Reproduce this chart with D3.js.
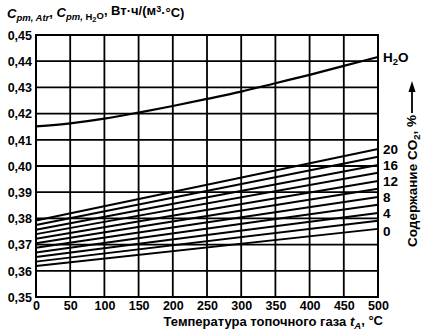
<!DOCTYPE html>
<html>
<head>
<meta charset="utf-8">
<script src="https://cdn.jsdelivr.net/npm/d3@7"></script>
<style>
  html, body { margin: 0; padding: 0; background: #fff; }
  svg { display: block; font-family: "Liberation Sans", Arial, sans-serif; }
</style>
</head>
<body>
<svg id="chart" width="423" height="333"></svg>
<script>
// ---- data ----
const tempTicks = [0, 50, 100, 150, 200, 250, 300, 350, 400, 450, 500];
const yTicks = [0.35, 0.36, 0.37, 0.38, 0.39, 0.40, 0.41, 0.42, 0.43, 0.44, 0.45];
const h2oTemps = [0, 50, 100, 150, 200, 250, 300, 350, 400, 450, 500];
const h2oValues = [0.4151, 0.4163, 0.4181, 0.4204, 0.4229, 0.4256, 0.4284, 0.4316, 0.4348, 0.4382, 0.4416];
const co2Levels = [0, 2, 4, 6, 8, 10, 12, 14, 16, 18, 20];
const co2Temps = [0, 500];
const co2At0 = [0.3618, 0.3635, 0.3653, 0.3670, 0.3688, 0.3705, 0.3722, 0.3740, 0.3757, 0.3775, 0.3792];
const co2At500 = [0.3760, 0.3791, 0.3821, 0.3852, 0.3882, 0.3913, 0.3943, 0.3974, 0.4004, 0.4035, 0.4065];
const co2LabelLevels = [0, 4, 8, 12, 16, 20];

// ---- layout ----
const svg = d3.select("#chart");
const x = d3.scaleLinear().domain([0, 500]).range([36, 378]);
const y = d3.scaleLinear().domain([0.35, 0.45]).range([297, 35]);
const fmt = d => d.toFixed(2).replace(".", ",");

// grid
const grid = svg.append("g").attr("stroke", "#000").attr("stroke-width", 1.8);
grid.selectAll("line.v").data(tempTicks).join("line")
  .attr("x1", d => x(d)).attr("x2", d => x(d))
  .attr("y1", y(0.35)).attr("y2", y(0.45));
grid.selectAll("line.h").data(yTicks).join("line")
  .attr("y1", d => y(d)).attr("y2", d => y(d))
  .attr("x1", x(0)).attr("x2", x(500));

// frame
svg.append("rect")
  .attr("x", x(0)).attr("y", y(0.45))
  .attr("width", x(500) - x(0)).attr("height", y(0.35) - y(0.45))
  .attr("fill", "none").attr("stroke", "#000").attr("stroke-width", 2);

// axes (labels only)
const xAxis = svg.append("g").attr("transform", `translate(0,${y(0.35)})`)
  .call(d3.axisBottom(x).tickValues(tempTicks).tickSize(0).tickPadding(4).tickFormat(d3.format("d")));
const yAxis = svg.append("g").attr("transform", `translate(${x(0)},0)`)
  .call(d3.axisLeft(y).tickValues(yTicks).tickSize(0).tickPadding(4).tickFormat(fmt));
[xAxis, yAxis].forEach(a => {
  a.select(".domain").remove();
  a.selectAll("text").attr("font-family", "Liberation Sans, Arial, sans-serif")
    .attr("font-size", 12.5).attr("font-weight", "bold").attr("fill", "#000");
});
yAxis.selectAll("text").attr("dy", "0.35em");
xAxis.selectAll("text").attr("dy", "0.72em");

// lines
const line = d3.line().x(d => x(d[0])).y(d => y(d[1]));
svg.append("path")
  .datum(h2oTemps.map((t, i) => [t, h2oValues[i]]))
  .attr("d", line.curve(d3.curveMonotoneX))
  .attr("fill", "none").attr("stroke", "#000").attr("stroke-width", 2.2);

const co2Line = d3.line().x(d => x(d[0])).y(d => y(d[1]));
svg.append("g").selectAll("path").data(co2Levels).join("path")
  .attr("d", (c, i) => co2Line([[co2Temps[0], co2At0[i]], [co2Temps[1], co2At500[i]]]))
  .attr("fill", "none").attr("stroke", "#000").attr("stroke-width", 2);

// right labels
const lab = svg.append("g").attr("font-size", 13.5).attr("font-weight", "bold").attr("fill", "#000");
const h2oT = lab.append("text").attr("x", 383).attr("y", y(h2oValues[h2oValues.length - 1])).attr("dy", "0.38em");
h2oT.append("tspan").text("H");
h2oT.append("tspan").attr("font-size", 9.5).attr("dy", "0.3em").text("2");
h2oT.append("tspan").attr("dy", "-0.25em").text("O");

lab.selectAll("text.co2").data(co2LabelLevels).join("text")
  .attr("class", "co2")
  .attr("x", 383)
  .attr("y", d => y(co2At500[co2Levels.indexOf(d)]) + (d === 0 ? 2 : 0))
  .attr("dy", "0.38em")
  .text(d => d);

// vertical label with arrow
const vt = svg.append("text")
  .attr("transform", "translate(417,247) rotate(-90)")
  .attr("font-size", 13.5).attr("font-weight", "bold").attr("fill", "#000");
vt.append("tspan").text("Содержание CO");
vt.append("tspan").attr("font-size", 9.5).attr("dy", "0.3em").text("2");
vt.append("tspan").attr("dy", "-0.3em").text(", %");

svg.append("line").attr("x1", 412).attr("x2", 412).attr("y1", 113).attr("y2", 90)
  .attr("stroke", "#000").attr("stroke-width", 1.8);
svg.append("path").attr("d", "M412,81 L408.5,92 L415.5,92 Z").attr("fill", "#000");

// title
const title = svg.append("text").attr("x", 7).attr("y", 18)
  .attr("font-size", 13).attr("font-weight", "bold").attr("fill", "#000");
title.append("tspan").attr("font-style", "italic").text("C");
title.append("tspan").attr("font-style", "italic").attr("font-size", 9.5).attr("dy", "0.3em").text("pm, Atr");
title.append("tspan").attr("dy", "-0.3em").text(", ");
title.append("tspan").attr("font-style", "italic").text("C");
title.append("tspan").attr("font-style", "italic").attr("font-size", 9.5).attr("dy", "0.3em").text("pm, ");
title.append("tspan").attr("font-size", 9.5).text("H");
title.append("tspan").attr("font-size", 7.5).attr("dy", "0.25em").text("2");
title.append("tspan").attr("font-size", 9.5).attr("dy", "-0.25em").text("O");
title.append("tspan").attr("dy", "-0.3em").text(", Вт·ч/(м");
title.append("tspan").attr("font-size", 9).attr("dy", "-0.4em").text("3");
title.append("tspan").attr("dy", "0.4em").text("·°C)");

// x axis title
const xt = svg.append("text").attr("x", 383).attr("y", 326).attr("text-anchor", "end")
  .attr("font-size", 13).attr("font-weight", "bold").attr("fill", "#000");
xt.append("tspan").text("Температура топочного газа ");
xt.append("tspan").attr("font-style", "italic").text("t");
xt.append("tspan").attr("font-style", "italic").attr("font-size", 9.5).attr("dy", "0.3em").text("A");
xt.append("tspan").attr("dy", "-0.3em").text(", °C");
</script>
</body>
</html>
